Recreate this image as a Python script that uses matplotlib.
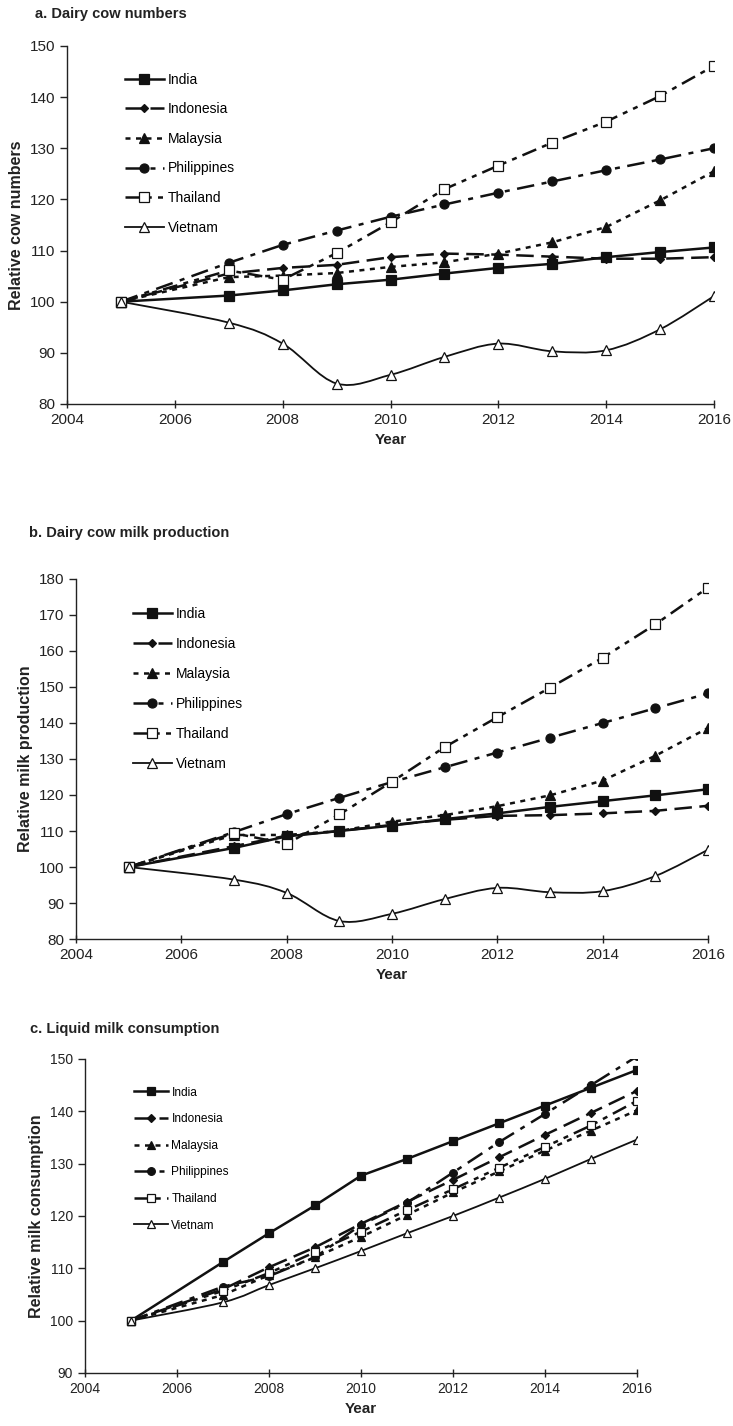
import numpy as np
import matplotlib
matplotlib.use("Agg")
import matplotlib.pyplot as plt
from matplotlib.path import Path
from matplotlib.patches import PathPatch
from matplotlib.lines import Line2D

plt.rcParams['font.family'] = ['Liberation Sans', 'DejaVu Sans']

# data (index, 2005 = 100)
years = [2005, 2007, 2008, 2009, 2010, 2011, 2012, 2013, 2014, 2015, 2016]
countries = ["India", "Indonesia", "Malaysia", "Philippines", "Thailand", "Vietnam"]

# a. dairy cow numbers
cows_india = [100, 101.2, 102.2, 103.4, 104.3, 105.5, 106.6, 107.4, 108.7, 109.7, 110.6]
cows_indonesia = [100, 105.5, 106.6, 107.2, 108.7, 109.4, 109.2, 108.8, 108.4, 108.4, 108.7]
cows_malaysia = [100, 104.8, 105.1, 105.6, 106.8, 107.7, 109.4, 111.6, 114.6, 119.8, 125.5]
cows_philippines = [100, 107.6, 111.1, 113.9, 116.6, 119.0, 121.3, 123.5, 125.7, 127.8, 130.0]
cows_thailand = [100, 106.1, 104.3, 109.5, 115.5, 122.0, 126.6, 131.1, 135.2, 140.2, 146.1]
cows_vietnam = [100, 95.9, 91.8, 84.0, 85.7, 89.2, 91.8, 90.3, 90.5, 94.6, 101.1]

# b. dairy cow milk production
prod_india = [100, 105.3, 108.5, 110.0, 111.5, 113.3, 114.9, 116.7, 118.3, 119.9, 121.6]
prod_indonesia = [100, 105.8, 108.7, 110.0, 111.7, 113.1, 114.2, 114.4, 114.9, 115.6, 117.0]
prod_malaysia = [100, 108.9, 108.9, 110.0, 112.6, 114.4, 116.9, 119.9, 124.0, 130.9, 138.6]
prod_philippines = [100, 109.7, 114.7, 119.2, 123.6, 127.7, 131.8, 135.9, 140.0, 144.1, 148.2]
prod_thailand = [100, 109.4, 106.4, 114.6, 123.7, 133.3, 141.6, 149.8, 158.1, 167.4, 177.6]
prod_vietnam = [100, 96.5, 92.8, 85.0, 87.0, 91.1, 94.2, 93.0, 93.3, 97.5, 104.8]

# c. liquid milk consumption
cons_india = [100, 111.2, 116.7, 122.0, 127.7, 130.9, 134.3, 137.7, 141.1, 144.5, 147.9]
cons_indonesia = [100, 106.0, 110.2, 114.0, 118.5, 122.7, 126.9, 131.2, 135.5, 139.7, 143.9]
cons_malaysia = [100, 104.9, 108.7, 112.1, 116.0, 120.2, 124.5, 128.5, 132.5, 136.3, 140.2]
cons_philippines = [100, 106.5, 108.5, 112.1, 118.3, 122.5, 128.3, 134.1, 139.5, 145.0, 150.5]
cons_thailand = [100, 105.7, 109.1, 113.1, 117.0, 121.1, 125.1, 129.2, 133.2, 137.3, 142.0]
cons_vietnam = [100, 103.5, 106.8, 110.0, 113.3, 116.7, 120.0, 123.5, 127.1, 130.9, 134.6]

styles = {
    "India":       dict(ls='-', lw=1.8, marker='s', mfc='#111', dashes=None),
    "Indonesia":   dict(ls='--', lw=1.8, marker='D', mfc='#111', dashes=(7, 3)),
    "Malaysia":    dict(ls='--', lw=1.8, marker='^', mfc='#111', dashes=(2, 2.2)),
    "Philippines": dict(ls='--', lw=1.8, marker='o', mfc='#111', dashes=(7, 3, 2, 3)),
    "Thailand":    dict(ls='--', lw=1.8, marker='s', mfc='white', dashes=(6, 2.5, 2, 2.5, 2, 2.5)),
    "Vietnam":     dict(ls='-', lw=1.3, marker='^', mfc='white', dashes=None),
}
msize = {"s": 6.5, "D": 4.5, "^": 6.5, "o": 6.5}


def smooth_path(x, y):
    # smoothed line through the points (Catmull-Rom as cubic Bezier)
    pts = np.column_stack([x, y]).astype(float)
    n = len(pts)
    verts = [pts[0]]
    codes = [Path.MOVETO]
    for i in range(n - 1):
        p0 = pts[max(i - 1, 0)]
        p1 = pts[i]
        p2 = pts[i + 1]
        p3 = pts[min(i + 2, n - 1)]
        verts += [p1 + (p2 - p0) / 6, p2 - (p3 - p1) / 6, p2]
        codes += [Path.CURVE4] * 3
    return Path(verts, codes)


def draw_panel(ax, series, ylim, ylabel, scale=1.0, legfs=10, tickfs=11,
               leg_y=0.96, legspace=1.13):
    handles = []
    for name, vals in zip(countries, series):
        st = styles[name]
        ms = msize[st['marker']] * scale
        if name == "Vietnam":
            ax.add_patch(PathPatch(smooth_path(years, vals), fill=False,
                                   lw=st['lw'], ec='#111', zorder=2))
            ax.plot(years, vals, ls='none', marker=st['marker'], ms=ms,
                    mfc=st['mfc'], mec='#111', mew=0.9, zorder=3)
        else:
            ln, = ax.plot(years, vals, color='#111', lw=st['lw'], ls=st['ls'],
                          marker=st['marker'], ms=ms, mfc=st['mfc'], mec='#111',
                          mew=0.9, zorder=3)
            if st['dashes'] is not None:
                ln.set_dashes(st['dashes'])
        h = Line2D([], [], color='#111', lw=st['lw'], ls=st['ls'],
                   marker=st['marker'], ms=ms, mfc=st['mfc'], mec='#111', mew=0.9)
        if st['dashes'] is not None:
            h.set_dashes(st['dashes'])
        handles.append(h)
    ax.set_xlim(2004, 2016)
    ax.set_ylim(*ylim)
    ax.set_xticks(range(2004, 2017, 2))
    ax.set_yticks(range(ylim[0], ylim[1] + 1, 10))
    for s in ['top', 'right']:
        ax.spines[s].set_visible(False)
    for s in ['left', 'bottom']:
        ax.spines[s].set_linewidth(1.0)
        ax.spines[s].set_color('#222')
    ax.tick_params(axis='y', direction='out', length=5, width=1.0,
                   labelsize=tickfs, colors='#222')
    ax.tick_params(axis='x', direction='inout', length=6, width=1.0,
                   labelsize=tickfs, colors='#222')
    ax.set_xlabel("Year", fontsize=11, fontweight='bold', color='#222')
    ax.set_ylabel(ylabel, fontsize=11.5, fontweight='bold', color='#222')
    ax.legend(handles, countries, loc='upper left', bbox_to_anchor=(0.07, leg_y),
              frameon=False, fontsize=legfs, labelspacing=legspace,
              handlelength=2.8, handletextpad=0.3)


fig = plt.figure(figsize=(7.33, 14.26), dpi=100)

ax_a = fig.add_axes([0.0914, 0.7167, 0.8827, 0.2511])
draw_panel(ax_a, [cows_india, cows_indonesia, cows_malaysia, cows_philippines,
                  cows_thailand, cows_vietnam], (80, 150), "Relative cow numbers",
           leg_y=0.96, legspace=1.12)

ax_b = fig.add_axes([0.1037, 0.3415, 0.8622, 0.2525])
draw_panel(ax_b, [prod_india, prod_indonesia, prod_malaysia, prod_philippines,
                  prod_thailand, prod_vietnam], (80, 180), "Relative milk production",
           leg_y=0.958, legspace=1.16)

ax_c = fig.add_axes([0.1160, 0.0372, 0.7531, 0.2202])
draw_panel(ax_c, [cons_india, cons_indonesia, cons_malaysia, cons_philippines,
                  cons_thailand, cons_vietnam], (90, 150), "Relative milk consumption",
           scale=0.85, legfs=8.6, tickfs=10, leg_y=0.946, legspace=1.22)

fig.text(35 / 733, 1 - 14 / 1426, "a. Dairy cow numbers", fontsize=10.5,
         fontweight='bold', va='center', color='#222')
fig.text(29 / 733, 1 - 533 / 1426, "b. Dairy cow milk production", fontsize=10.5,
         fontweight='bold', va='center', color='#222')
fig.text(30 / 733, 1 - 1029 / 1426, "c. Liquid milk consumption", fontsize=10.5,
         fontweight='bold', va='center', color='#222')

fig.savefig("out.png", dpi=100)
